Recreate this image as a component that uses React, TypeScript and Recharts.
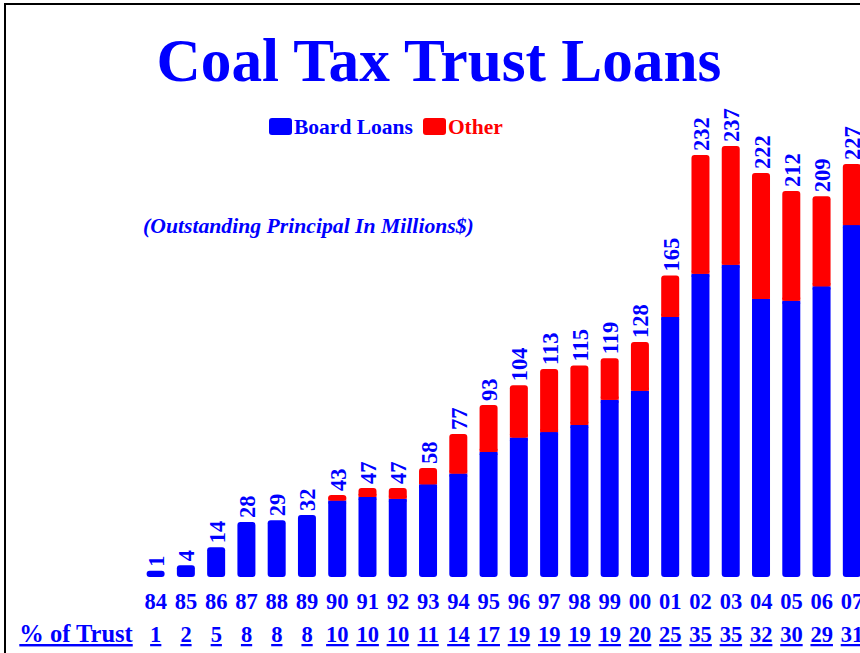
import { BarChart, Bar, XAxis, YAxis, Legend, LabelList } from 'recharts';

const years = ['84', '85', '86', '87', '88', '89', '90', '91', '92', '93', '94', '95', '96', '97', '98', '99', '00', '01', '02', '03', '04', '05', '06', '07'];
const boardLoans = [1, 4, 14, 28, 29, 32, 40, 42, 41, 49, 55, 67, 75, 78, 82, 96, 101, 142, 166, 171, 152, 151, 159, 193];
const otherLoans = [0, 0, 0, 0, 0, 0, 3, 5, 6, 9, 22, 26, 29, 35, 33, 23, 27, 23, 66, 66, 70, 61, 50, 34];
const totals = [1, 4, 14, 28, 29, 32, 43, 47, 47, 58, 77, 93, 104, 113, 115, 119, 128, 165, 232, 237, 222, 212, 209, 227];
const pctOfTrust = [1, 2, 5, 8, 8, 8, 10, 10, 10, 11, 14, 17, 19, 19, 19, 19, 20, 25, 35, 35, 32, 30, 29, 31];

const data = years.map((year, i) => ({
  year,
  board: boardLoans[i],
  other: otherLoans[i],
  total: totals[i],
  pct: pctOfTrust[i],
}));

const BLUE = '#0000FF';
const RED = '#FF0000';
const SERIF = '"Liberation Serif", "Times New Roman", serif';

const CHART_W = 880;
const CHART_H = 653;
const AXIS_H = 76;
const PLOT_BOTTOM = CHART_H - AXIS_H;
const R = 3;

// blue part runs down to the plot floor (axis starts a bit below zero)
function BoardShape(props: any) {
  const { x, y, width, payload } = props;
  const h = PLOT_BOTTOM - y;
  if (!(h > 0)) return <g />;
  const squareTop = payload && payload.other > 0;
  return (
    <g>
      <rect x={x} y={y} width={width} height={h} rx={R} fill={BLUE} />
      {squareTop && <rect x={x} y={y} width={width} height={Math.min(R, h)} fill={BLUE} />}
    </g>
  );
}

function OtherShape(props: any) {
  const { x, y, width, height } = props;
  if (!(height > 0)) return <g />;
  return (
    <g>
      <rect x={x} y={y} width={width} height={height} rx={R} fill={RED} />
      <rect x={x} y={y + height - Math.min(R, height)} width={width} height={Math.min(R, height)} fill={RED} />
    </g>
  );
}

function TotalLabel(props: any) {
  const vb = props.viewBox && props.viewBox.width != null ? props.viewBox : props;
  const cx = vb.x + vb.width / 2;
  const ty = vb.y - 4;
  return (
    <text
      x={cx}
      y={ty}
      dy={1}
      transform={`rotate(-90 ${cx} ${ty})`}
      textAnchor="start"
      dominantBaseline="central"
      fill={BLUE}
      fontFamily={SERIF}
      fontWeight="bold"
      fontSize={22.5}
    >
      {props.value}
    </text>
  );
}

function YearTick(props: any) {
  const { x, y, payload, index } = props;
  const i = payload && payload.index != null ? payload.index : index;
  return (
    <g>
      <text x={x} y={y + 32} textAnchor="middle" fill={BLUE} fontFamily={SERIF} fontWeight="bold" fontSize={22.5}>
        {payload.value}
      </text>
      <text
        x={x}
        y={y + 65}
        textAnchor="middle"
        fill={BLUE}
        fontFamily={SERIF}
        fontWeight="bold"
        fontSize={22.5}
        style={{ textDecoration: 'underline', textDecorationThickness: 3 }}
      >
        {pctOfTrust[i]}
      </text>
      {i === 0 && (
        <text
          x={x - 23}
          y={y + 65}
          textAnchor="end"
          fill={BLUE}
          fontFamily={SERIF}
          fontWeight="bold"
          fontSize={24.5}
          style={{ textDecoration: 'underline', textDecorationThickness: 3 }}
        >
          % of Trust
        </text>
      )}
    </g>
  );
}

function LegendContent(props: any) {
  const items = props.payload || [];
  return (
    <div style={{ display: 'flex', alignItems: 'flex-start', fontFamily: SERIF, fontWeight: 'bold', fontSize: 21.5, lineHeight: '19px' }}>
      {items.map((item: any, i: number) => (
        <div key={i} style={{ display: 'flex', alignItems: 'flex-start', marginRight: 10 }}>
          <span style={{ display: 'inline-block', width: 23, height: 17, borderRadius: 3, background: item.color, marginRight: 2 }} />
          <span style={{ color: item.color }}>{item.value}</span>
        </div>
      ))}
    </div>
  );
}

export default function App() {
  return (
    <div style={{ position: 'relative', width: 860, height: 653, overflow: 'hidden', background: '#fff', fontFamily: SERIF }}>
      <style>{'body{margin:0}'}</style>
      <div
        style={{
          position: 'absolute',
          left: 4,
          top: 3,
          width: 900,
          height: 700,
          border: '2px solid #000',
          boxSizing: 'border-box',
        }}
      />

      {/* Title */}
      <div
        style={{
          position: 'absolute',
          left: 439,
          top: 30,
          transform: 'translateX(-50%)',
          whiteSpace: 'nowrap',
          color: BLUE,
          fontWeight: 'bold',
          fontSize: 61.3,
          lineHeight: '61px',
        }}
      >
        Coal Tax Trust Loans
      </div>

      {/* Subtitle */}
      <div
        style={{
          position: 'absolute',
          left: 143,
          top: 216,
          whiteSpace: 'nowrap',
          color: BLUE,
          fontWeight: 'bold',
          fontStyle: 'italic',
          fontSize: 21.7,
          lineHeight: '21.5px',
        }}
      >
        (Outstanding Principal In Millions$)
      </div>

      <div style={{ position: 'absolute', left: 0, top: 0 }}>
        <BarChart
          width={CHART_W}
          height={CHART_H}
          data={data}
          margin={{ top: 104.5, right: 12.9, bottom: 0, left: 140.6 }}
        >
          <XAxis
            dataKey="year"
            height={AXIS_H}
            axisLine={false}
            tickLine={false}
            tickSize={0}
            tickMargin={0}
            interval={0}
            tick={<YearTick />}
          />
          <YAxis hide domain={[-2.5, 260]} />
          <Legend
            layout="horizontal"
            verticalAlign="middle"
            align="center"
            content={<LegendContent />}
            wrapperStyle={{ left: 269, top: 118, width: 400, height: 20 }}
          />
          <Bar dataKey="board" name="Board Loans" stackId="a" fill={BLUE} barSize={18} shape={<BoardShape />} isAnimationActive={false} />
          <Bar dataKey="other" name="Other" stackId="a" fill={RED} barSize={18} shape={<OtherShape />} isAnimationActive={false}>
            <LabelList dataKey="total" content={<TotalLabel />} />
          </Bar>
        </BarChart>
      </div>
    </div>
  );
}
